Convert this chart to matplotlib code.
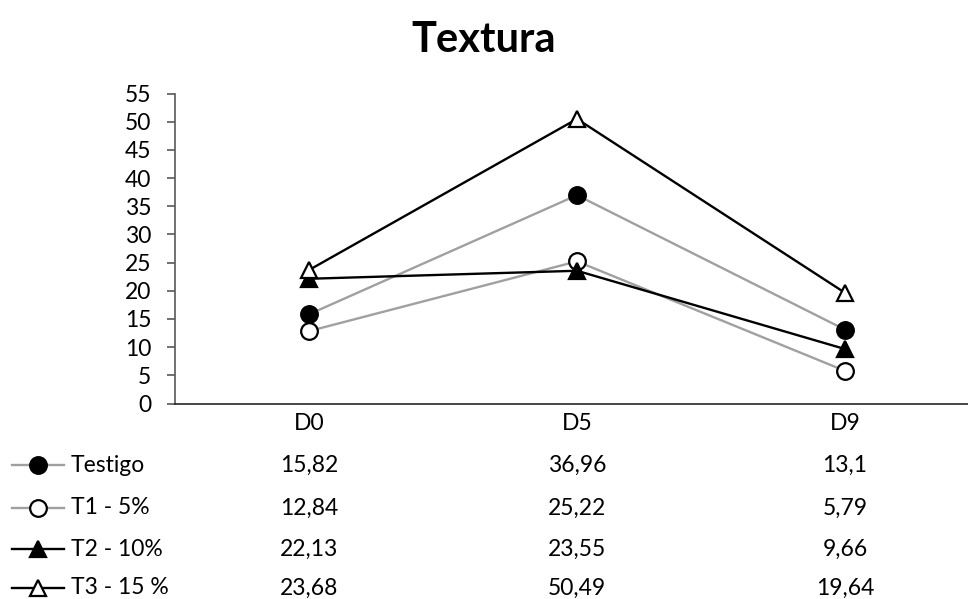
import matplotlib
matplotlib.use("Agg")
import matplotlib.pyplot as plt
from matplotlib.lines import Line2D
from matplotlib.transforms import blended_transform_factory

categories = ["D0", "D5", "D9"]
series_names = ["Testigo", "T1 - 5%", "T2 - 10%", "T3 - 15 %"]
testigo = [15.82, 36.96, 13.1]
t1 = [12.84, 25.22, 5.79]
t2 = [22.13, 23.55, 9.66]
t3 = [23.68, 50.49, 19.64]
table_labels = [["15,82", "36,96", "13,1"],
                ["12,84", "25,22", "5,79"],
                ["22,13", "23,55", "9,66"],
                ["23,68", "50,49", "19,64"]]
yticks = list(range(0, 60, 5))

plt.rcParams['font.family'] = ['Lato', 'DejaVu Sans']
FS = 16.5

W, H = 968, 599
fig = plt.figure(figsize=(W / 100, H / 100), dpi=100)
x0, x1 = 175, 979
ytop, ybot = 93.5, 403.5
ax = fig.add_axes([x0 / W, 1 - ybot / H, (x1 - x0) / W, (ybot - ytop) / H])

grey = "#A0A0A0"
styles = [
    dict(color=grey, marker="o", mfc="black", mec="black"),
    dict(color=grey, marker="o", mfc="white", mec="black"),
    dict(color="black", marker="^", mfc="black", mec="black"),
    dict(color="black", marker="^", mfc="white", mec="black"),
]
data = [testigo, t1, t2, t3]
xs = list(range(len(categories)))
for vals, st in zip(data, styles):
    ax.plot(xs, vals, lw=1.7, ms=12, mew=1.6, zorder=3, clip_on=False, **st)

ax.set_xlim(-0.5, 2.5)
ax.set_ylim(0, 55)
ax.set_yticks(yticks)
ax.set_xticks(xs)
ax.set_xticklabels(categories)
ax.tick_params(axis='y', direction='out', length=6, width=1.2, color="#595959", labelsize=FS, pad=11)
ax.tick_params(axis='x', length=0, labelsize=FS, pad=7)
for s in ["top", "right"]:
    ax.spines[s].set_visible(False)
ax.spines["left"].set_color("#595959")
ax.spines["left"].set_linewidth(1.2)
ax.spines["bottom"].set_color("#262626")
ax.spines["bottom"].set_linewidth(1.2)

fig.text(484 / W, 1 - 40 / H, "Textura", ha="center", va="center", fontsize=30, fontweight="bold")

trans = blended_transform_factory(ax.transData, fig.transFigure)
row_y = [465, 508, 549, 588]
for i, (name, st) in enumerate(zip(series_names, styles)):
    yf = 1 - row_y[i] / H
    fig.add_artist(Line2D([12 / W, 64 / W], [yf, yf], transform=fig.transFigure,
                          lw=1.7, color=st["color"]))
    fig.add_artist(Line2D([38 / W], [yf], transform=fig.transFigure, ls="none",
                          marker=st["marker"], ms=12, mew=1.6, mfc=st["mfc"], mec=st["mec"]))
    fig.text(71 / W, yf, name, ha="left", va="center", fontsize=FS)
    for j in range(len(categories)):
        fig.text(xs[j], yf, table_labels[i][j], transform=trans, ha="center", va="center", fontsize=FS)

fig.savefig("out.png", dpi=100)
